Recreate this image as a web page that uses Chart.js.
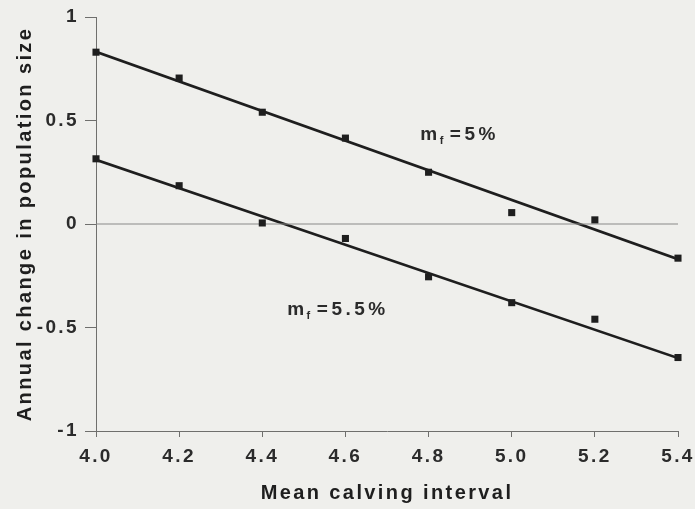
<!DOCTYPE html>
<html>
<head>
<meta charset="utf-8">
<script src="https://cdn.jsdelivr.net/npm/chart.js@4"></script>
<style>
  html,body{margin:0;padding:0;background:#efefec;}
  canvas{display:block;}
</style>
</head>
<body>
<canvas id="chart" width="695" height="509"></canvas>
<script>
// --- data ---
const calvingInterval = [4.0, 4.2, 4.4, 4.6, 4.8, 5.0, 5.2, 5.4];
const change5 = [0.83, 0.705, 0.54, 0.415, 0.25, 0.055, 0.02, -0.165];
const change55 = [0.315, 0.185, 0.005, -0.07, -0.255, -0.38, -0.46, -0.645];
// fitted lines (end points)
const fitX = [4.0, 5.4];
const fit5 = [0.832, -0.17];
const fit55 = [0.31, -0.648];
const zeroLine = [0, 0];
const curveLabels = [
  {rate:'5%', x:4.78, y:0.43},
  {rate:'5.5%', x:4.46, y:-0.415}
];

const FONT = '"Liberation Sans", Arial, sans-serif';
const INK = '#1e1e1e';
const TEXT = '#2b2b2b';

const pts = (xs, ys) => xs.map((x,i)=>({x, y:ys[i]}));

// background, letter spacing + m_f labels
const figPlugin = {
  id:'fig',
  beforeDraw(chart){
    const c = chart.ctx;
    c.save();
    c.fillStyle = '#efefec';
    c.fillRect(0,0,chart.width,chart.height);
    c.restore();
    c.letterSpacing = '2.4px';
  },
  afterDatasetsDraw(chart){
    const c = chart.ctx, xs = chart.scales.x, ys = chart.scales.y;
    c.save();
    c.fillStyle = TEXT;
    c.textBaseline = 'middle';
    c.textAlign = 'left';
    c.letterSpacing = '3.5px';
    curveLabels.forEach(l=>{
      let px = xs.getPixelForValue(l.x), py = ys.getPixelForValue(l.y);
      c.font = '600 19px ' + FONT;
      c.fillText('m', px, py);
      px += c.measureText('m').width - 1;
      c.font = '600 11px ' + FONT;
      c.fillText('f', px, py + 6);
      px += c.measureText('f').width + 3;
      c.font = '600 19px ' + FONT;
      c.fillText('=' + l.rate, px, py);
    });
    c.restore();
  }
};

const lineSet = (data, color, width) => ({
  data, showLine:true, borderColor:color, borderWidth:width,
  pointRadius:0, fill:false, order:2
});
const pointSet = data => ({
  data, showLine:false, pointStyle:'rect', pointRadius:5, clip:false,
  backgroundColor:INK, borderColor:INK, borderWidth:0, order:1
});

new Chart(document.getElementById('chart'), {
  type:'scatter',
  data:{ datasets:[
    lineSet(pts(fitX, zeroLine), '#8a8a88', 1.2),
    lineSet(pts(fitX, fit5), INK, 2.6),
    lineSet(pts(fitX, fit55), INK, 2.6),
    pointSet(pts(calvingInterval, change5)),
    pointSet(pts(calvingInterval, change55))
  ]},
  options:{
    responsive:false,
    animation:false,
    layout:{ padding:{ top:17, right:17, left:0, bottom:0 } },
    plugins:{ legend:{display:false}, tooltip:{enabled:false} },
    scales:{
      x:{
        type:'linear', min:4.0, max:5.4,
        afterFit(s){ s.height = 78; s.paddingLeft = 0; s.paddingRight = 0; },
        border:{ display:true, color:'#6f6f6d', width:1 },
        grid:{ drawOnChartArea:false, drawTicks:true, tickLength:6, color:'#6f6f6d' },
        ticks:{
          stepSize:0.2, padding:8, color:TEXT,
          font:{ family:FONT, size:19, weight:'600' },
          callback:v=>Number(v).toFixed(1)
        },
        title:{ display:true, text:'Mean calving interval', color:INK,
          font:{ family:FONT, size:20, weight:'bold' }, padding:{ top:0, bottom:4 } }
      },
      y:{
        min:-1, max:1,
        afterFit(s){ s.width = 96; s.paddingTop = 0; s.paddingBottom = 0; },
        border:{ display:true, color:'#6f6f6d', width:1 },
        grid:{ drawOnChartArea:false, drawTicks:true, tickLength:11, color:'#6f6f6d' },
        ticks:{
          stepSize:0.5, padding:6, color:TEXT,
          font:{ family:FONT, size:19, weight:'600' },
          callback:v=>String(v)
        },
        title:{ display:true, text:'Annual change in population size', color:INK,
          font:{ family:FONT, size:20, weight:'bold' }, padding:{ top:13, bottom:0 } }
      }
    }
  },
  plugins:[figPlugin]
});
</script>
</body>
</html>
